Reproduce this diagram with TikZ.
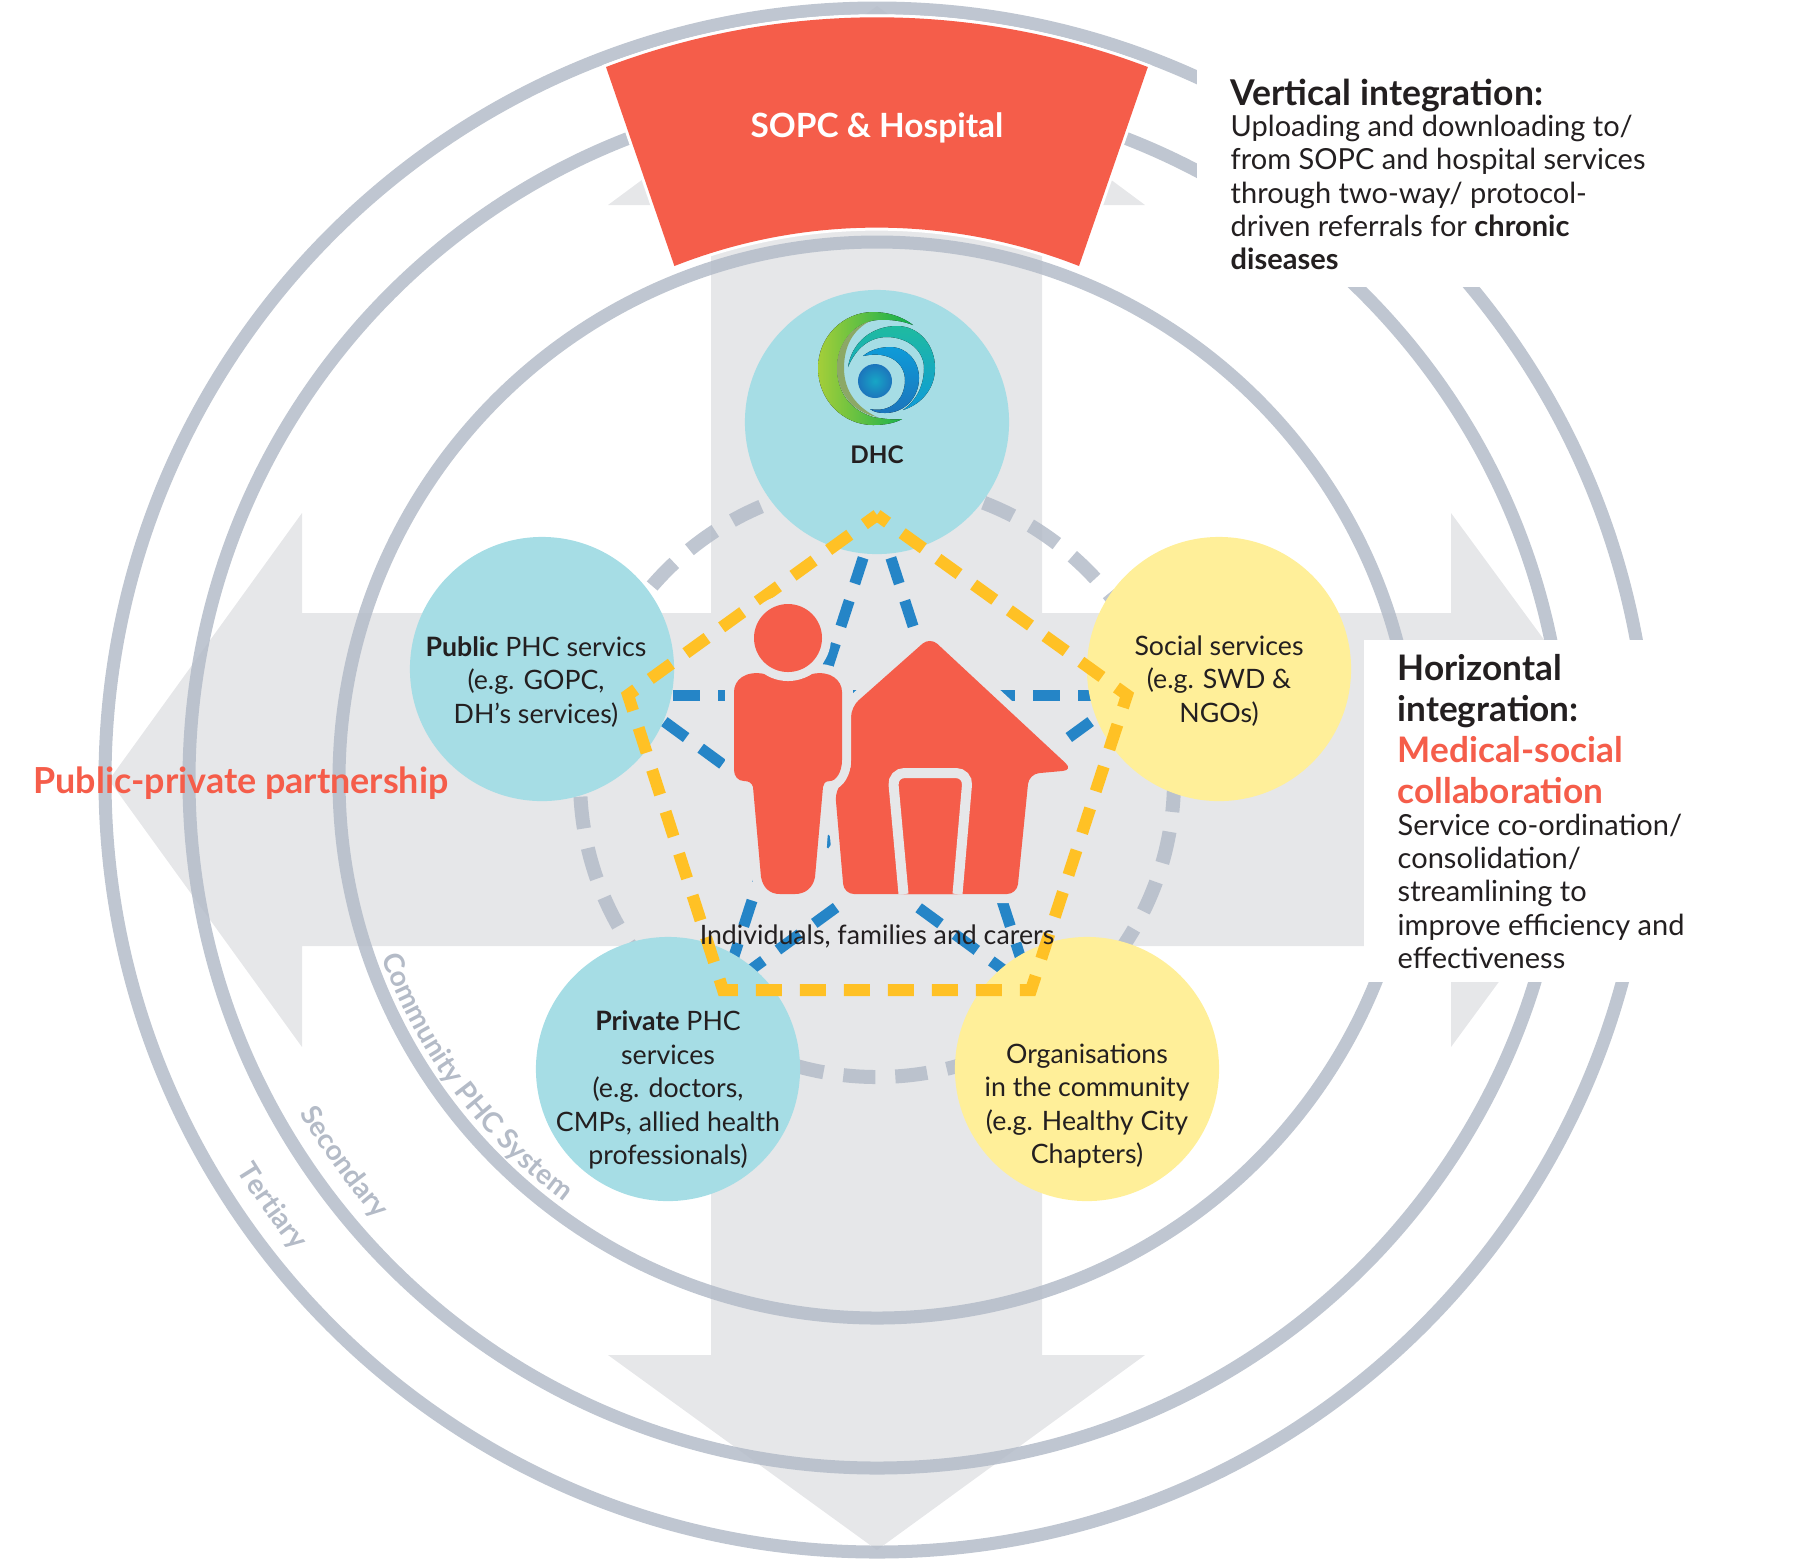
\documentclass[tikz,border=0pt]{standalone}
\usepackage{fontspec}
\setmainfont{Lato}
\usetikzlibrary{decorations.text}
\definecolor{crossgrey}{HTML}{E6E7E9}
\definecolor{ringgrey}{HTML}{B4BCC9}
\definecolor{ringlabel}{HTML}{B4BBC7}
\definecolor{hospred}{HTML}{F55D4A}
\definecolor{discteal}{HTML}{A6DDE5}
\definecolor{discyellow}{HTML}{FFEF99}
\definecolor{linkblue}{HTML}{2585C7}
\definecolor{penyellow}{HTML}{FFC125}
\definecolor{inkblack}{HTML}{231F20}
\definecolor{logolime}{HTML}{A4CE39}
\definecolor{logogreen}{HTML}{0BAE4E}
\definecolor{logoolive}{HTML}{8CA866}
\definecolor{logoteal}{HTML}{1FBBA0}
\definecolor{logosky}{HTML}{0E9BD8}
\definecolor{logoblue}{HTML}{1C75BC}
\definecolor{logocyan}{HTML}{17A6C6}
\tikzset{
	ringline/.style={draw=ringgrey,draw opacity=.85,line width=.13cm},
	greydash/.style={draw=ringgrey,draw opacity=.85,line width=.14cm,dash pattern=on .32cm off .2cm},
	bluedash/.style={draw=linkblue,line width=.11cm,dash pattern=on .27cm off .18cm},
	yellowdash/.style={draw=penyellow,line width=.12cm,dash pattern=on .26cm off .18cm,dash phase=.13cm},
	tealdisc/.style={circle,fill=discteal,minimum size=2.64cm,inner sep=0},
	yellowdisc/.style={circle,fill=discyellow,minimum size=2.64cm,inner sep=0},
	bodytext/.style={inner sep=0,text=inkblack,font=\fontsize{7.6}{9.5}\selectfont},
	sidetext/.style={inner sep=0,text=inkblack,anchor=north west,align=left,font=\fontsize{8.25}{9.5}\selectfont},
	headtext/.style={inner sep=0,font=\bfseries\fontsize{10}{11.6}\selectfont},
	halofill/.style={fill=hospred,preaction={draw=crossgrey,line width=.18cm}}
}
\begin{document}
\begin{tikzpicture}[x=.01cm,y=-.01cm]
	\useasboundingbox (0,0) rectangle (1800,1559);
	\coordinate (ctr) at (877,780);
	\fill [crossgrey] (711,1355) -- (711,205) -- (608,205) -- (877,6) -- (1145,205) -- (1042,205) -- (1042,1355) -- (1145,1355) -- (877,1550) -- (608,1355) -- cycle;
	\fill [crossgrey] (302,613) -- (302,513) -- (109,780) -- (302,1047) -- (302,946) -- (1451,946) -- (1451,1047) -- (1647,780) -- (1451,513) -- (1451,613) -- cycle;
	\draw [ringline] (ctr) circle [radius=538];
	\draw [ringline] (ctr) circle [radius=688];
	\draw [ringline] (ctr) circle [radius=772];
	\draw [greydash] (ctr) circle [radius=297];
	\fill [white] (1197,40) rectangle (1700,287);
	\fill [white] (1364,640) rectangle (1700,982);
	\fill [fill=hospred,preaction={draw=white,line width=.06cm}] (606,67) arc [start angle=-110.8,end angle=-69.2,radius=763] -- (1079,266) arc [start angle=-68.5,end angle=-111.5,radius=552] -- cycle;
	\node [inner sep=0,text=white,font=\bfseries\fontsize{9.5}{11.6}\selectfont] (hospital) at (877,128) {SOPC \& Hospital};
	\coordinate (ptop) at (877,515);
	\coordinate (pright) at (1127,695);
	\coordinate (pbotr) at (1031,990);
	\coordinate (pbotl) at (723,990);
	\coordinate (pleft) at (628,695);
	\draw [bluedash] (ptop) -- (pbotl);
	\draw [bluedash] (ptop) -- (pbotr);
	\draw [bluedash] (pleft) -- (pright);
	\draw [bluedash] (pleft) -- (pbotr);
	\draw [bluedash] (pright) -- (pbotl);
	\node [tealdisc] (dhc) at (877,422) {};
	\node [tealdisc] (public) at (542,669) {};
	\node [yellowdisc] (social) at (1219,669) {};
	\node [tealdisc] (private) at (668,1069) {};
	\node [yellowdisc] (organisations) at (1087,1069) {};
	\draw [yellowdash] (ptop) -- (pright) -- (pbotr) -- (pbotl) -- (pleft) -- cycle;
	\fill [left color=logolime,right color=logogreen] (913,325) .. controls (900,315) and (885,312) .. (873,312) .. controls (843,312) and (818,337) .. (818,368) .. controls (818,400) and (843,425) .. (873,425) .. controls (885,425) and (895,423) .. (902,419) .. controls (893,420) and (885,419) .. (873,417) .. controls (850,410) and (837,392) .. (837,368) .. controls (837,342) and (855,322) .. (877,320) .. controls (890,319) and (903,321) .. (913,325) -- cycle;
	\fill [logoolive] (870,321) .. controls (850,328) and (837,345) .. (837,368) .. controls (837,392) and (852,412) .. (877,417) .. controls (858,408) and (844,392) .. (844,368) .. controls (844,346) and (853,330) .. (870,321) -- cycle;
	\fill [top color=logoteal,bottom color=logosky] (848,367) .. controls (852,342) and (872,326) .. (897,326) .. controls (919,326) and (935,345) .. (935,368) .. controls (935,388) and (922,404) .. (903,410) .. controls (916,401) and (924,386) .. (924,368) .. controls (924,350) and (907,337) .. (887,337) .. controls (868,337) and (855,350) .. (848,367) -- cycle;
	\fill [top color=logosky,bottom color=logoblue] (863,356) .. controls (870,350) and (880,347) .. (890,347) .. controls (907,347) and (919,361) .. (919,378) .. controls (919,397) and (905,413) .. (885,413) .. controls (879,413) and (874,412) .. (870,409) .. controls (890,413) and (905,400) .. (905,380) .. controls (905,364) and (890,350) .. (863,356) -- cycle;
	\shade [inner color=logocyan,outer color=logoblue] (875,381) circle [radius=17];
	\fill [halofill,rounded corners=.1cm] (851,707) -- (930,637) -- (1073,770) -- (1029,774) -- (1017,894) -- (844,894) -- (835,790) -- (851,773) -- cycle;
	\draw [draw=crossgrey,fill=hospred,line width=.1cm,rounded corners=.12cm] (903.5,894) -- (892.5,773) -- (968,773) -- (957.5,894);
	\fill [halofill] (765,674) .. controls (775,682) and (800,682) .. (812,674) .. controls (830,670) and (842,680) .. (842,692) -- (842,760) .. controls (842,772) and (836,781) .. (830,781) .. controls (825,781) and (823,784) .. (823,787) -- (815,877) .. controls (813,888) and (805,894) .. (795,894) -- (780,894) .. controls (770,894) and (763,888) .. (761,877) -- (753,787) .. controls (752,783) and (749,781) .. (744,781) .. controls (738,781) and (734,776) .. (734,770) -- (734,692) .. controls (734,680) and (745,670) .. (765,674) -- cycle;
	\fill [halofill] (788,638) circle [radius=34];
	\node [bodytext] (carers) at (877,936) {Individuals, families and carers};
	\node [inner sep=0,text=inkblack,font=\bfseries\fontsize{6.9}{9.5}\selectfont] (dhclabel) at (877,455) {DHC};
	\node [bodytext,align=center] (publiclabel) at (536,682) {\textbf{Public} PHC servics\\(e.g. GOPC,\\DH’s services)};
	\node [bodytext,align=center] (sociallabel) at (1219,681) {Social services\\(e.g. SWD \&\\NGOs)};
	\node [bodytext,align=center] (privatelabel) at (668,1090) {\textbf{Private} PHC\\services\\(e.g. doctors,\\CMPs, allied health\\professionals)};
	\node [bodytext,align=center] (organisationslabel) at (1087,1106) {Organisations\\in the community\\(e.g. Healthy City\\Chapters)};
	\node [sidetext] (verticallabel) at (1230,78) {{\bfseries\fontsize{10.1}{9.5}\selectfont Vertical integration:}\\[-.65pt]Uploading and downloading to/\\from SOPC and hospital services\\through two-way/ protocol-\\driven referrals for \textbf{chronic}\\\textbf{diseases}};
	\node [headtext,text=inkblack,anchor=north west,align=left] (horizontallabel) at (1397,654) {Horizontal\\integration:\\\textcolor{hospred}{Medical-social}\\\textcolor{hospred}{collaboration}};
	\node [sidetext] (horizontalbody) at (1397,813) {Service co-ordination/\\consolidation/\\streamlining to\\improve efficiency and\\effectiveness};
	\node [inner sep=0,text=hospred,font=\bfseries\fontsize{10.2}{11.6}\selectfont] (partnership) at (241,783) {Public-private partnership};
	\path [decorate,decoration={text along path,text={|\bfseries\fontsize{8}{9}\selectfont\color{ringlabel}|Community PHC System}}] (382,957) arc [start angle=160.3,end angle=115,radius=522];
	\path [decorate,decoration={text along path,text={|\bfseries\fontsize{8}{9}\selectfont\color{ringlabel}|Secondary}}] (300,1113) arc [start angle=150,end angle=125,radius=667];
	\path [decorate,decoration={text along path,text={|\bfseries\fontsize{8}{9}\selectfont\color{ringlabel}|Tertiary}}] (237,1170) arc [start angle=148.6,end angle=125,radius=752];
\end{tikzpicture}
\end{document}
